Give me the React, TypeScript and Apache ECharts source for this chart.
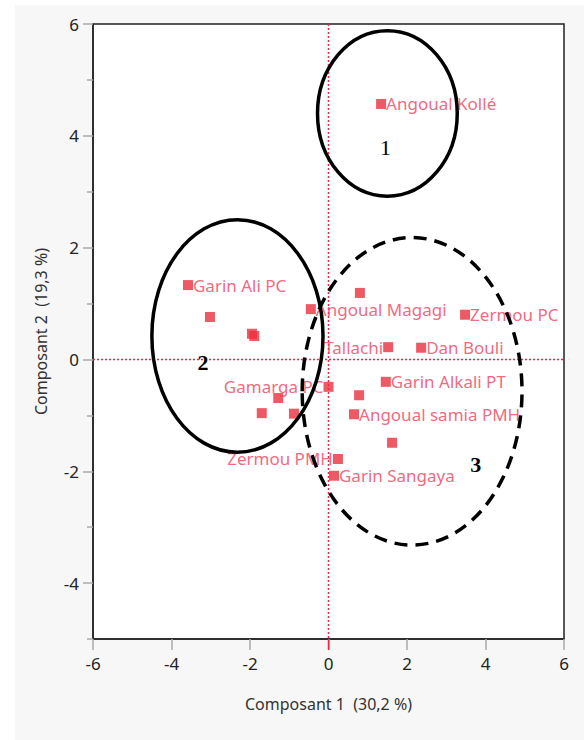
import React, { useEffect, useRef } from "react";
import * as echarts from "echarts";

// ---- data ----
const pointsX = [1.34, -3.58, -3.02, -1.95, -1.89, -0.45, 0.80, 3.48, 1.52, 2.36, 1.46, 0.78, 0.65, 1.62, 0.24, 0.14, 0.0, -1.28, -1.70, -0.88];
const pointsY = [4.57, 1.33, 0.76, 0.46, 0.42, 0.90, 1.19, 0.80, 0.22, 0.21, -0.40, -0.64, -0.98, -1.49, -1.78, -2.08, -0.49, -0.69, -0.96, -0.97];
const pointNames = [
  "Angoual Kollé", "Garin Ali PC", "", "", "", "Angoual Magagi", "", "Zermou PC", "Tallachi", "Dan Bouli",
  "Garin Alkali PT", "", "Angoual samia PMH", "", "Zermou PMH", "Garin Sangaya", "Gamarga PC", "", "", "",
];
// label placement (style only)
const labelSide = ["right", "right", "right", "right", "right", "right", "right", "right", "left", "right", "right", "right", "right", "right", "left", "right", "left", "right", "right", "right"];
const labelOffset = [
  [7, 2], [5, 3], [0, 0], [0, 0], [0, 0], [-24, -28], [0, 0], [0, -19], [-1, 2], [4, 2],
  [3, 2], [0, 0], [0, 19], [0, 0], [8, 20], [1, 20], [-3, 1], [0, 0], [0, 0], [0, 0],
];
const xTicks = [-6, -4, -2, 0, 2, 4, 6];
const yTicks = [-4, -2, 0, 2, 4, 6];
const yMinorTicks = [-5, -3, -1, 1, 3, 5];
const yRange = [-5, 6];
const xTitle = "Composant 1  (30,2 %)";
const yTitle = "Composant 2  (19,3 %)";
// group ellipses in data units: [cx, cy, rx, ry]
const groupEllipses = [
  [1.50, 4.40, 1.78, 1.48],
  [-2.32, 0.42, 2.18, 2.08],
  [2.13, -0.57, 2.80, 2.75],
];
const groupDashed = [false, false, true];
const groupNames = ["1", "2", "3"];
const groupLabelPos = [[1.45, 3.8], [-3.2, -0.05], [3.75, -1.88]];
const groupLabelBold = [false, true, true];

const FONT = "'Noto Sans', 'Open Sans', sans-serif";
const RED = "#e8303f";
const LINE_RED = "#f02848";
const LABEL_RED = "#f0405c";

export default function App() {
  const ref = useRef<HTMLDivElement>(null);
  useEffect(() => {
    const chart = echarts.init(ref.current!, null, { renderer: "svg" });
    const data = pointsX.map((x, i) => ({
      value: [x, pointsY[i]],
      name: pointNames[i],
      label: {
        show: pointNames[i] !== "",
        position: labelSide[i] as any,
        distance: 0,
        offset: labelOffset[i],
      },
    }));
    chart.setOption({
      animation: false,
      backgroundColor: "#f7f7f7",
      grid: {
        left: 78, top: 19, right: 20, bottom: 101,
        show: true, backgroundColor: "#ffffff", borderColor: "#222", borderWidth: 1.5,
      },
      xAxis: {
        type: "value", min: xTicks[0], max: xTicks[xTicks.length - 1], interval: 2,
        name: xTitle, nameLocation: "middle", nameGap: 57,
        nameTextStyle: { fontFamily: FONT, fontSize: 16, color: "#333" },
        axisLine: { show: true, onZero: false, lineStyle: { color: "#222", width: 1.5 } },
        axisTick: { show: true, length: 11, lineStyle: { color: "#aaa", width: 1.5 } },
        axisLabel: { fontFamily: FONT, fontSize: 17, color: "#222", margin: 16 },
        splitLine: { show: false },
      },
      yAxis: [
        {
          type: "value", min: yRange[0], max: yRange[1],
          name: yTitle, nameLocation: "middle", nameGap: 44,
          nameTextStyle: { fontFamily: FONT, fontSize: 16, color: "#333" },
          axisLine: { show: true, onZero: false, lineStyle: { color: "#222", width: 1.5 } },
          axisTick: { show: true, length: 10, customValues: yTicks, lineStyle: { color: "#aaa", width: 1.5 } },
          axisLabel: { fontFamily: FONT, fontSize: 17, color: "#222", margin: 14, customValues: yTicks },
          splitLine: { show: false },
        },
        {
          type: "value", min: yRange[0], max: yRange[1], position: "left",
          axisLine: { show: false, onZero: false },
          axisTick: { show: true, length: 6, customValues: yMinorTicks, lineStyle: { color: "#aaa", width: 1.5 } },
          axisLabel: { show: false },
          splitLine: { show: false },
        },
      ],
      series: [
        {
          type: "scatter",
          symbol: "rect",
          symbolSize: 10,
          itemStyle: { color: RED },
          data,
          label: {
            fontFamily: FONT, fontSize: 17, color: LABEL_RED,
            formatter: (p: any) => p.name,
          },
          labelLayout: { hideOverlap: false },
          z: 3,
        },
      ],
    });
    const els: any[] = [];
    // reference lines at x = 0 and y = 0
    const o = chart.convertToPixel({ gridIndex: 0 }, [0, 0]) as number[];
    const bl = chart.convertToPixel({ gridIndex: 0 }, [xTicks[0], yRange[0]]) as number[];
    const tr = chart.convertToPixel({ gridIndex: 0 }, [xTicks[xTicks.length - 1], yRange[1]]) as number[];
    els.push({
      type: "line", shape: { x1: o[0], y1: tr[1], x2: o[0], y2: bl[1] },
      style: { stroke: LINE_RED, lineWidth: 1.5, lineDash: [2, 2] }, z: 1, silent: true,
    });
    els.push({
      type: "line", shape: { x1: bl[0], y1: o[1], x2: tr[0], y2: o[1] },
      style: { stroke: LINE_RED, lineWidth: 1.5, lineDash: [2, 2] }, z: 1, silent: true,
    });
    els.push({
      type: "line", shape: { x1: o[0], y1: bl[1], x2: o[0], y2: bl[1] + 11 },
      style: { stroke: LINE_RED, lineWidth: 1.5 }, z: 60, silent: true,
    });
    groupEllipses.forEach((e, i) => {
      const c = chart.convertToPixel({ gridIndex: 0 }, [e[0], e[1]]) as number[];
      const p = chart.convertToPixel({ gridIndex: 0 }, [e[0] + e[2], e[1] + e[3]]) as number[];
      els.push({
        type: "ellipse",
        shape: { cx: c[0], cy: c[1], rx: Math.abs(p[0] - c[0]), ry: Math.abs(c[1] - p[1]) },
        style: { fill: "none", stroke: "#000", lineWidth: 3.5, lineDash: groupDashed[i] ? [13, 8] : null },
        z: 50, silent: true,
      });
      const lp = chart.convertToPixel({ gridIndex: 0 }, groupLabelPos[i]) as number[];
      els.push({
        type: "text", x: lp[0], y: lp[1],
        style: {
          text: groupNames[i], fill: "#000", font: `${groupLabelBold[i] ? "bold " : ""}22px 'Liberation Serif', serif`,
          align: "center", verticalAlign: "middle",
        },
        z: 50, silent: true,
      });
    });
    chart.setOption({ graphic: els });
    return () => chart.dispose();
  }, []);
  return (
    <div style={{ position: "fixed", left: 0, top: 0, width: 584, height: 740, background: "#ffffff" }}>
      <div ref={ref} style={{ position: "absolute", left: 15, top: 5, width: 569, height: 735 }} />
    </div>
  );
}
